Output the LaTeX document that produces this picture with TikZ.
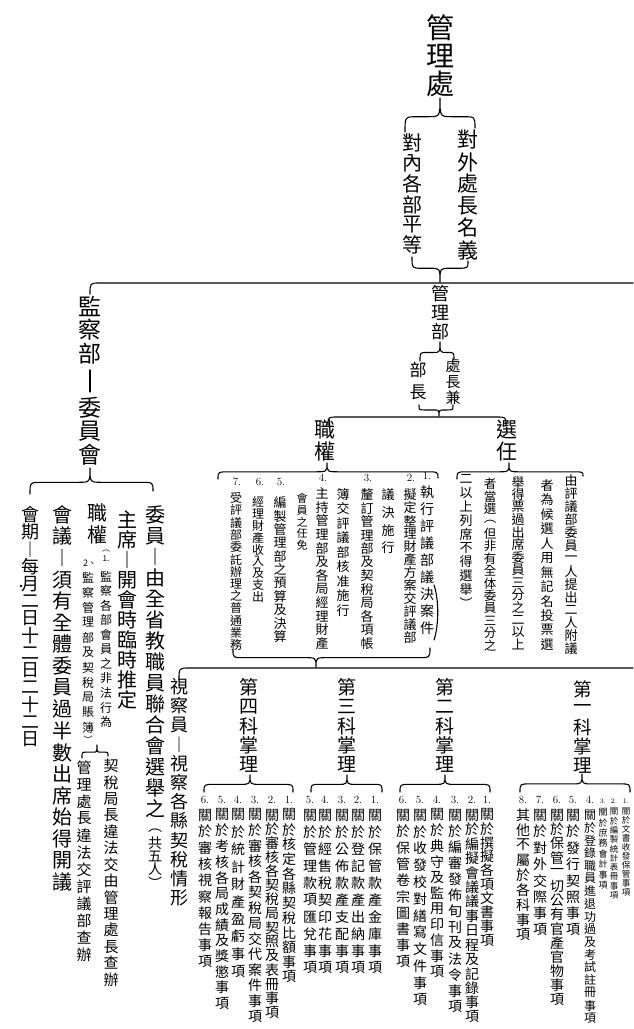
\documentclass[tikz,border=0pt]{standalone}
\usepackage{fontspec}
\newfontfamily\cjk{Noto Sans CJK TC}
\usetikzlibrary{calc}
\makeatletter
\newdimen\vtx@step
\def\vtx@stop{}
\def\vtx@stopm{\vtx@stop}
\newcommand\vtxt[2]{\vtx@step=#1\relax\vbox{\offinterlineskip\vtx@loop#2\vtx@stop}}
\def\vtx@loop#1{\def\vtx@arg{#1}\ifx\vtx@arg\vtx@stopm\else\hbox to 1.2em{\hss\vbox to\vtx@step{\vss\hbox{#1}\vss}\hss}\expandafter\vtx@loop\fi}
\newcommand\VT[3]{\fontsize{#1pt}{#1pt}\selectfont\vtxt{#2pt}{#3}}
\makeatother
\tikzset{
  vcol/.style={inner sep=0pt, outer sep=0pt, anchor=north, font=\cjk},
  num/.style={inner sep=0pt, font=\fontsize{11}{11}\selectfont},
  smallnum/.style={inner sep=0pt, font=\fontsize{7}{7}\selectfont},
  ln/.style={line width=1.1pt, line cap=round, line join=round},
}
\newcommand\cn[6]{\node[vcol] (#1) at (#2,#3) {\VT{#4}{#5}{#6}};}
\newcommand\hbrace[4][6]{%
  \coordinate (bm) at ($(#2)!0.45!(#3)$);
  \draw[ln] (#2) .. controls (#2 |- bm) .. ($(#2 |- bm)+(#1,0)$)
    -- ($(#3 |- bm)+(-#1,0)$) .. controls (#3 |- bm) .. (#3)
    .. controls (#3 |- bm) .. ($(#3 |- bm)+(#1,0)$)
    -- ($(#4 |- bm)+(-#1,0)$) .. controls (#4 |- bm) .. (#4);}
\begin{document}
\begin{tikzpicture}[x=1pt,y=-1pt]
\useasboundingbox (0,0) rectangle (633,1029);
\fill[white] (0,0) rectangle (633,1029);

% ---------- top
\cn{glc}{440}{14}{28}{28}{管理處}
\cn{dw}{468}{129}{21}{22}{對外處長名義}
\cn{dn}{412}{133}{20}{20.4}{對內各部平等}
\coordinate (b0l) at (405,132); \coordinate (b0t) at (440,98); \coordinate (b0r) at (475,128);
\hbrace[12]{b0l}{b0t}{b0r}
\coordinate (b1l) at (412,257); \coordinate (b1t) at (440,282); \coordinate (b1r) at (468,261);
\hbrace[10]{b1l}{b1t}{b1r}

% main line
\coordinate (m0) at (90,294); \coordinate (m1) at (633,283);
\draw[ln] (m0) .. controls (m0 |- m1) .. ($(m0 |- m1)+(10,0)$) -- (m1);

% ---------- 管理部
\cn{glb}{440}{284}{18}{19}{管理部}
\cn{bz}{418}{358}{17}{23}{部長}
\cn{cz}{453}{358}{15}{16}{處長兼}
\coordinate (b2l) at (420,361); \coordinate (b2t) at (440,342); \coordinate (b2r) at (454,359);
\hbrace[7]{b2l}{b2t}{b2r}
\coordinate (b3l) at (419,405); \coordinate (b3t) at (439,416); \coordinate (b3r) at (453,405);
\hbrace[6]{b3l}{b3t}{b3r}

\coordinate (k0) at (328,425); \coordinate (k1) at (506,425); \coordinate (ky) at (0,417);
\draw[ln] (k0) .. controls (k0 |- ky) .. ($(k0 |- ky)+(10,0)$) -- ($(k1 |- ky)+(-10,0)$) .. controls (k1 |- ky) .. (k1);

\cn{zq}{325}{419}{21}{22}{職權}
\cn{xr}{507}{419}{21}{22}{選任}

% 職權 block
\coordinate (b4l) at (218,479); \coordinate (b4t) at (327,463); \coordinate (b4r) at (438,478);
\hbrace[12]{b4l}{b4t}{b4r}
\coordinate (p1a) at (434,585); \coordinate (p1b) at (434,640);
\draw[ln] (p1a) .. controls ($(p1a)+(5,15)$) and ($(p1b)+(5,-15)$) .. (p1b);
\node[num] (n1) at (427,476) {1.};
\node[num] (n2) at (411,478) {2.};
\node[num] (n3) at (368,478) {3.};
\node[num] (n4) at (323,478) {4.};
\node[num] (n5) at (281,482) {5.};
\node[num] (n6) at (260,482) {6.};
\node[num] (n7) at (237,482) {7.};
\cn{i1}{427}{483.5}{14}{17}{執行評議部議決案件}
\cn{i2}{410}{488.5}{13}{13}{擬定整理財產方案交評議部}
\cn{i2b}{388}{486}{13}{17.7}{議決施行}
\cn{i3}{367}{488}{13}{13.5}{釐訂管理部及契稅局各項帳}
\cn{i3b}{343}{487}{13}{14.5}{簿交評議部核准施行}
\cn{i4}{322}{487}{13}{13.6}{主持管理部及各局經理財產}
\cn{i4b}{302}{493}{11}{11.5}{會員之任免}
\cn{i5}{280}{496}{13}{13.4}{編製管理部之預算及決算}
\cn{i6}{258}{496}{12}{11.9}{經理財產收入及支出}
\cn{i7}{236}{492}{12}{12.25}{受評議部委託辦理之普通業務}
\coordinate (b5l) at (233,650); \coordinate (b5t) at (316,667); \coordinate (b5r) at (430,648);
\hbrace[12]{b5l}{b5t}{b5r}

% 選任 block
\coordinate (b6l) at (457,479); \coordinate (b6t) at (509,463); \coordinate (b6r) at (583,476);
\hbrace[10]{b6l}{b6t}{b6r}
\cn{s1}{571}{474.5}{13}{12.9}{由評議部委員一人提出二人附議}
\cn{s2}{547}{478}{13}{14.5}{者為候選人用無記名投票選}
\cn{s3}{518}{476}{13}{12.5}{舉得票過出席委員三分之二以上}
\cn{s4}{490}{478}{12.5}{12.4}{者當選︵但非有全体委員三分之}
\cn{s5}{466}{472}{13}{13.8}{二以上列席不得選舉︶}

% line 2
\coordinate (h0) at (179,680); \coordinate (h1) at (633,668);
\draw[ln] (h0) .. controls (h0 |- h1) .. ($(h0 |- h1)+(10,0)$) -- (h1);

\cn{scy}{179}{677}{18}{19.2}{視察員︱視察各縣契稅情形}

% 科 titles
\cn{k4}{249}{678}{19}{19.2}{第四科掌理}
\cn{k3}{347}{678}{19}{19.2}{第三科掌理}
\cn{k2}{445}{678}{19}{19.2}{第二科掌理}
\cn{k1}{583}{680}{18.5}{19}{第一科掌理}
\coordinate (c4l) at (204,792); \coordinate (c4t) at (250,775); \coordinate (c4r) at (293,792);
\hbrace[10]{c4l}{c4t}{c4r}
\coordinate (c3l) at (311,792); \coordinate (c3t) at (347,775); \coordinate (c3r) at (382,792);
\hbrace[9]{c3l}{c3t}{c3r}
\coordinate (c2l) at (400,792); \coordinate (c2t) at (445,775); \coordinate (c2r) at (490,792);
\hbrace[10]{c2l}{c2t}{c2r}
\coordinate (c1l) at (520,792); \coordinate (c1t) at (582,774); \coordinate (c1r) at (630,792);
\hbrace[10]{c1l}{c1t}{c1r}

% 第四科 items
\node[num] (e41) at (289,800) {1.};
\node[num] (e42) at (272,800) {2.};
\node[num] (e43) at (255,800) {3.};
\node[num] (e44) at (238,800) {4.};
\node[num] (e45) at (222,800) {5.};
\node[num] (e46) at (205,800) {6.};
\cn{d41}{289}{807.6}{14}{14.7}{關於核定各縣契稅比額事項}
\cn{d42}{272}{808}{14}{14.1}{關於審核各契稅局契照及表冊事項}
\cn{d43}{255}{807}{14}{15.5}{關於審核各契稅局交代案件事項}
\cn{d44}{238}{806}{14}{17.4}{關於統計財產盈虧事項}
\cn{d45}{222}{807}{14}{15.7}{關於考核各局成績及獎懲事項}
\cn{d46}{205}{807}{14}{16.3}{關於審核視察報告事項}

% 第三科 items
\node[num] (e31) at (375,800) {1.};
\node[num] (e32) at (358,800) {2.};
\node[num] (e33) at (342,800) {3.};
\node[num] (e34) at (325,800) {4.};
\node[num] (e35) at (310,800) {5.};
\cn{d31}{375}{806.5}{14}{17}{關於保管款產金庫事項}
\cn{d32}{358}{806.5}{14}{17}{關於登記款產出納事項}
\cn{d33}{342}{806.5}{14}{17}{關於公佈款產支配事項}
\cn{d34}{325}{806.5}{14}{17}{關於經售稅契印花事項}
\cn{d35}{310}{806.5}{14}{17}{關於管理款項匯兌事項}

% 第二科 items
\node[num] (e21) at (487,800) {1.};
\node[num] (e22) at (472,800) {2.};
\node[num] (e23) at (455,800) {3.};
\node[num] (e24) at (437,800) {4.};
\node[num] (e25) at (420,800) {5.};
\node[num] (e26) at (403,800) {6.};
\cn{d21}{487}{808}{14}{13.9}{關於撰擬各項文書事項}
\cn{d22}{472}{808}{14}{14.4}{關於編擬會議議事日程及記錄事項}
\cn{d23}{455}{807}{14}{16}{關於編審發佈旬刊及法令事項}
\cn{d24}{437}{807}{14}{15.7}{關於典守及監用印信事項}
\cn{d25}{420}{806.6}{14}{16.8}{關於收發校對繕寫文件事項}
\cn{d26}{403}{807}{14}{16.3}{關於保管卷宗圖書事項}

% 第一科 items
\node[num] (e18) at (523,800) {8.};
\node[num] (e17) at (540,800) {7.};
\node[num] (e16) at (557,800) {6.};
\node[num] (e15) at (573,800) {5.};
\node[num] (e14) at (590,800) {4.};
\node[smallnum] (e13) at (603,801) {3.};
\node[smallnum] (e12) at (614,801) {2.};
\node[smallnum] (e11) at (626,801) {1.};
\cn{d18}{523}{807.5}{14}{15}{其他不屬於各科事項}
\cn{d17}{540}{807}{14}{16.4}{關於對外交際事項}
\cn{d16}{557}{808}{14}{14.2}{關於保管一切公有官產官物事項}
\cn{d15}{573}{807}{14}{16.4}{關於發行契照事項}
\cn{d14}{590}{808.6}{12}{12.7}{關於登錄職員進退功過及考試註冊事項}
\cn{d13}{603}{807}{9}{10.4}{關於庶務會計事項}
\cn{d12}{614}{807}{8.5}{9.3}{關於編製統計表冊事項}
\cn{d11}{626}{807}{8.5}{9}{關於文書收發保管事項}

% ---------- 監察部
\cn{jcb}{90}{294}{23}{24}{監察部}
\cn{wyh}{90}{396}{23}{23.5}{委員會}
\draw[ln, shorten <=4pt, shorten >=4pt] (jcb.south) -- (wyh.north);
\coordinate (j0l) at (30,494); \coordinate (j0t) at (90,468); \coordinate (j0r) at (153,491);
\hbrace[12]{j0l}{j0t}{j0r}
\cn{cwy}{155}{504.5}{20}{21}{委員︱由全省教職員聯合會選舉之}
\cn{cwy2}{155}{824}{14}{13}{︵共五人︶}
\cn{czx}{127}{510}{20}{20}{主席︱開會時臨時推定}
\cn{czq}{97}{502}{20}{22}{職權}
\cn{cp1}{106}{547}{8}{7.5}{︵{1.}}
\node[inner sep=0pt, font=\cjk\fontsize{9}{9}\selectfont] (cp2) at (90,563) {2、};
\cn{sb1}{106}{569}{12}{14.6}{監察各部會員之非法行為}
\cn{sb2}{88}{570}{12}{15.0}{監察管理部及契稅局賬簿}
\cn{cp3}{88}{736}{9}{8}{︶}
\fill (21,586) circle (1.3pt);
\coordinate (j1l) at (82,758); \coordinate (j1t) at (97,745); \coordinate (j1r) at (108,756);
\hbrace[4]{j1l}{j1t}{j1r}
\cn{sba}{111}{758}{15}{16.4}{契稅局長違法交由管理處長查辦}
\cn{sbb}{84}{759}{15}{17}{管理處長違法交評議部查辦}
\cn{chy}{62}{504}{20}{21.6}{會議︱須有全體委員過半數出席始得開議}
\cn{chq}{30}{506}{18}{17.3}{會期︱每月二日十二日二十二日}
\end{tikzpicture}
\end{document}
